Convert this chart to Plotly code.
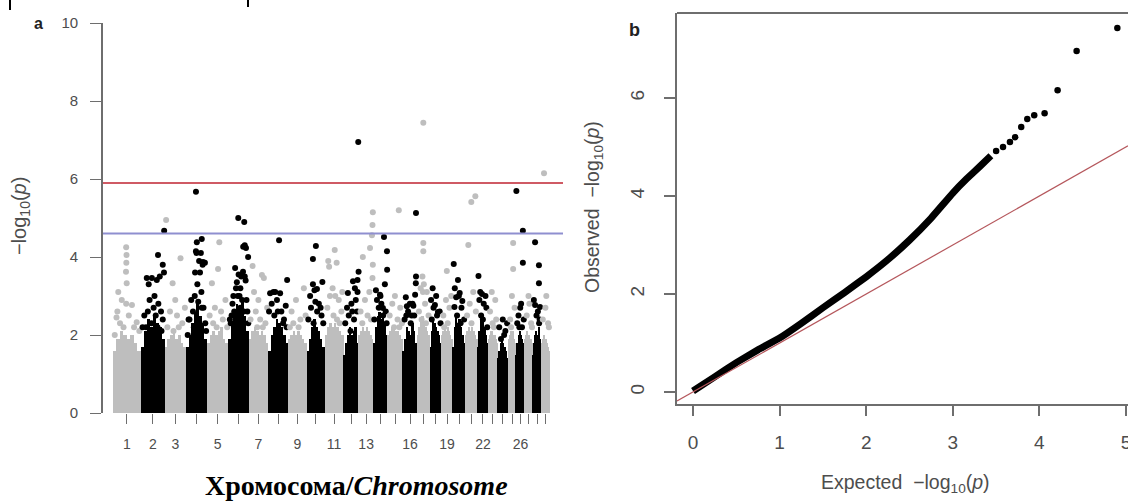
import numpy as np
import plotly.graph_objects as go

# ---------------- data ----------------
chrom_names = [str(i) for i in range(1, 30)]
chrom_len_mb = [158.5, 136.2, 121.0, 120.0, 120.1, 117.8, 110.7, 113.3, 105.5, 103.3,
                107.0, 87.2, 83.5, 82.4, 85.0, 81.7, 73.2, 65.8, 63.4, 72.0,
                69.9, 60.8, 52.5, 62.3, 42.4, 52.0, 45.6, 45.9, 51.1]
chrom_tick_text = ["1", "2", "3", "", "5", "", "7", "", "9", "", "11", "", "13", "", "",
                   "16", "", "", "19", "", "", "22", "", "", "", "26", "", "", ""]

# dense (solid) part of each chromosome: -log10(p) reached over 8 equal segments
dense_top = [
    [1.6, 1.9, 2.1, 2.0, 1.9, 2.0, 1.8, 1.6],
    [1.7, 2.1, 2.4, 2.2, 2.5, 2.3, 2.2, 1.9],
    [1.7, 1.9, 2.0, 2.1, 1.9, 2.0, 1.8, 1.7],
    [1.7, 2.0, 2.3, 2.6, 2.8, 2.5, 2.3, 1.9],
    [1.8, 2.0, 2.1, 2.0, 2.1, 2.2, 1.9, 1.8],
    [1.9, 2.3, 2.6, 2.8, 2.7, 2.9, 2.5, 2.1],
    [1.9, 2.1, 2.2, 2.1, 2.0, 2.1, 2.0, 1.8],
    [1.6, 2.0, 2.2, 2.4, 2.3, 2.2, 2.0, 1.8],
    [1.9, 2.0, 2.1, 2.0, 2.1, 2.0, 1.9, 1.8],
    [1.6, 1.9, 2.2, 2.4, 2.2, 2.1, 1.9, 1.7],
    [2.0, 2.2, 2.3, 2.2, 2.3, 2.2, 2.1, 2.0],
    [1.5, 1.8, 2.0, 2.2, 2.0, 2.1, 2.2, 1.8],
    [2.0, 2.1, 2.2, 2.1, 2.2, 2.1, 2.0, 1.9],
    [1.8, 2.2, 2.5, 2.6, 2.4, 2.5, 2.3, 2.0],
    [2.0, 2.1, 2.2, 2.2, 2.1, 2.1, 2.0, 1.9],
    [1.6, 1.9, 2.2, 2.1, 2.0, 2.3, 2.1, 1.8],
    [2.0, 2.2, 2.4, 2.5, 2.3, 2.2, 2.1, 2.0],
    [1.7, 2.1, 2.4, 2.3, 2.2, 2.1, 2.0, 1.8],
    [2.0, 2.1, 2.2, 2.1, 2.2, 2.1, 2.0, 1.9],
    [1.7, 2.2, 2.5, 2.3, 2.4, 2.2, 2.0, 1.8],
    [2.0, 2.1, 2.2, 2.1, 2.2, 2.1, 2.0, 1.9],
    [1.7, 2.1, 2.4, 2.3, 2.5, 2.2, 2.0, 1.8],
    [1.9, 2.0, 2.1, 2.1, 2.0, 2.0, 1.9, 1.8],
    [1.4, 1.6, 1.8, 1.9, 1.8, 1.7, 1.6, 1.4],
    [1.9, 2.0, 2.1, 2.0, 2.1, 2.0, 1.9, 1.8],
    [1.5, 1.8, 2.0, 2.1, 2.0, 1.9, 1.8, 1.6],
    [1.9, 2.0, 2.1, 2.0, 2.0, 1.9, 1.9, 1.8],
    [1.5, 1.8, 2.0, 2.1, 2.0, 2.2, 1.9, 1.6],
    [1.8, 1.9, 2.0, 1.9, 1.9, 1.8, 1.7, 1.6],
]

# individual SNPs above the dense band: chromosome -> [(position Mb, -log10(p))]
snp_points = {
    1: [(75, 4.25), (77, 4.05), (76, 3.85), (74, 3.62), (78, 3.33), (30, 3.1), (50, 2.9), (75, 2.8),
        (20, 2.45), (25, 2.6), (108, 2.77), (135, 2.33), (60, 2.2), (90, 2.5), (120, 2.2), (150, 2.1),
        (40, 2.3), (10, 2.0)],
    2: [(98, 4.05), (133, 4.67), (125, 3.8), (132, 3.6), (34, 3.46), (63, 3.46), (91, 3.41), (108, 3.5),
        (45, 3.3), (78, 3.0), (73, 2.7), (20, 2.5), (40, 2.6), (60, 2.3), (85, 2.5), (100, 2.8), (115, 2.6),
        (50, 2.9), (10, 2.2), (125, 2.4), (30, 2.2), (70, 2.1), (95, 2.2), (118, 2.1), (55, 2.0)],
    3: [(8, 4.95), (90, 3.97), (45, 3.33), (30, 2.6), (70, 2.5), (100, 2.3), (115, 2.7), (60, 2.9),
        (15, 2.2), (80, 2.2), (50, 2.1)],
    4: [(57, 5.67), (90, 4.46), (62, 4.38), (57, 4.15), (60, 4.1), (85, 4.1), (75, 3.9), (95, 3.8),
        (97, 3.87), (108, 3.85), (52, 3.6), (80, 3.6), (65, 3.3), (88, 3.1), (50, 3.0), (70, 2.85),
        (90, 2.7), (15, 2.4), (20, 2.4), (40, 2.6), (30, 2.9), (100, 2.7), (110, 2.3), (10, 2.0),
        (45, 2.2), (115, 2.1)],
    5: [(70, 4.38), (63, 3.69), (28, 3.33), (15, 2.5), (45, 2.7), (90, 2.4), (105, 2.9), (55, 2.2),
        (80, 2.6), (35, 2.3), (115, 2.2)],
    6: [(58, 5.0), (92, 4.9), (86, 4.26), (102, 4.23), (95, 4.3), (114, 4.0), (40, 3.72), (85, 3.62),
        (60, 3.55), (75, 3.5), (100, 3.4), (50, 3.35), (70, 3.2), (55, 3.0), (80, 2.9), (10, 2.4),
        (25, 2.8), (45, 3.2), (65, 3.0), (95, 3.5), (105, 2.9), (110, 2.6), (30, 3.0), (70, 2.7),
        (20, 2.5), (35, 2.6), (90, 2.6), (15, 2.3), (115, 2.3)],
    7: [(22, 3.77), (75, 3.54), (86, 3.46), (10, 2.4), (40, 2.6), (55, 2.9), (95, 2.3), (105, 2.7),
        (30, 3.1), (65, 2.4), (80, 2.2), (48, 2.2)],
    8: [(62, 4.43), (108, 3.41), (11, 3.07), (68, 3.07), (20, 2.8), (35, 2.5), (50, 2.9), (75, 2.6),
        (90, 2.4), (100, 2.75), (5, 2.6), (30, 3.1), (40, 3.1), (55, 2.6), (85, 2.3), (105, 2.2)],
    9: [(20, 2.6), (45, 2.9), (70, 2.4), (90, 3.2), (60, 2.2), (30, 2.3), (100, 2.5), (10, 2.2)],
    10: [(53, 4.28), (36, 3.95), (36, 3.3), (45, 3.15), (59, 3.18), (90, 3.36), (20, 3.0), (50, 2.85),
         (80, 2.7), (10, 2.4), (25, 2.7), (70, 2.8), (85, 2.5), (95, 2.3), (60, 2.6), (40, 2.3)],
    11: [(57, 4.18), (68, 3.85), (20, 3.9), (25, 3.75), (45, 3.2), (60, 3.0), (15, 2.7), (30, 3.0),
         (80, 2.9), (95, 2.6), (100, 3.1), (50, 2.5), (70, 2.4), (85, 2.3)],
    12: [(84, 6.95), (86, 3.62), (54, 3.38), (80, 3.41), (65, 3.2), (80, 3.1), (25, 3.08), (20, 2.7),
         (50, 2.6), (10, 2.3), (30, 2.5), (45, 2.8), (60, 2.4), (70, 2.9), (78, 2.6), (40, 2.1)],
    13: [(80, 5.15), (78, 4.82), (75, 4.56), (64, 4.23), (23, 4.0), (80, 3.8), (78, 3.46), (10, 2.6),
         (35, 2.9), (50, 2.5), (60, 3.1), (20, 2.3), (70, 2.4)],
    14: [(60, 4.51), (77, 4.15), (78, 3.67), (14, 3.15), (37, 3.03), (54, 2.69), (20, 2.9), (30, 2.7),
         (45, 2.8), (65, 3.3), (70, 2.6), (5, 2.4), (40, 3.0), (55, 2.5), (75, 2.3)],
    15: [(62, 5.2), (10, 2.5), (25, 2.8), (40, 3.0), (55, 2.4), (70, 2.7), (80, 2.3), (35, 2.2), (65, 2.2)],
    16: [(75, 5.13), (75, 3.5), (74, 3.33), (70, 3.03), (17, 2.97), (23, 2.74), (40, 2.8), (60, 2.75),
         (20, 2.5), (50, 2.5), (10, 2.4), (30, 2.6), (45, 2.3), (55, 2.8), (65, 2.5)],
    17: [(35, 7.44), (35, 4.36), (35, 4.15), (30, 3.5), (38, 3.3), (33, 3.1), (10, 2.6), (20, 3.2),
         (45, 2.8), (55, 3.1), (65, 2.5), (25, 2.4), (50, 2.3)],
    18: [(6, 2.9), (28, 2.77), (45, 2.59), (15, 3.2), (35, 3.0), (55, 2.6), (60, 2.3), (20, 2.7),
         (40, 2.5), (10, 2.4)],
    19: [(30, 3.64), (10, 2.5), (25, 2.9), (45, 2.7), (55, 3.0), (35, 2.3), (15, 2.2)],
    20: [(6, 3.82), (30, 3.41), (12, 3.2), (40, 3.08), (20, 2.97), (55, 2.87), (10, 2.72), (35, 3.0),
         (50, 2.7), (25, 2.5), (65, 2.4), (45, 2.3)],
    21: [(57, 5.56), (34, 5.41), (17, 4.31), (10, 2.5), (25, 2.8), (45, 3.1), (60, 2.6), (35, 2.3)],
    22: [(5, 3.51), (15, 3.1), (25, 3.05), (45, 3.0), (10, 2.9), (35, 2.8), (50, 2.7), (30, 2.4),
         (55, 2.2), (20, 2.5)],
    23: [(10, 2.6), (25, 2.3), (40, 2.9), (20, 3.1), (45, 2.4), (32, 2.2)],
    24: [(10, 2.2), (30, 2.4), (45, 2.1), (20, 1.9), (55, 2.3), (38, 2.0)],
    25: [(27, 4.36), (27, 3.69), (10, 2.4), (35, 2.7), (20, 3.0), (15, 2.2)],
    26: [(3, 5.69), (40, 4.67), (40, 3.85), (8, 2.3), (35, 2.2), (15, 2.5), (25, 2.7), (45, 2.4),
         (30, 2.8), (20, 2.2)],
    27: [(10, 2.5), (25, 2.8), (35, 2.3), (20, 3.0), (40, 2.2)],
    28: [(12, 4.38), (34, 3.79), (34, 3.33), (12, 2.77), (40, 2.72), (35, 2.3), (20, 2.5), (5, 2.9),
         (28, 2.6), (38, 2.4)],
    29: [(17, 6.15), (10, 2.4), (25, 2.7), (40, 2.3), (30, 3.0), (45, 2.2)],
}
suggestive_line = 4.6
genomewide_line = 5.9

# QQ plot: dense part (thick curve) and the separate tail points
qq_expected = [0.0, 0.25, 0.5, 0.75, 1.0, 1.25, 1.5, 1.75, 2.0, 2.25, 2.5, 2.75, 3.0,
               3.16, 3.31, 3.44]
qq_observed = [0.02, 0.31, 0.6, 0.86, 1.1, 1.4, 1.72, 2.03, 2.35, 2.7, 3.1, 3.55, 4.06,
               4.35, 4.6, 4.82]
qq_tail_expected = [3.5, 3.58, 3.66, 3.72, 3.79, 3.86, 3.94, 4.06, 4.21, 4.43, 4.90]
qq_tail_observed = [4.92, 5.0, 5.1, 5.2, 5.41, 5.57, 5.65, 5.69, 6.16, 6.96, 7.43]
qq_ticks_x = [0, 1, 2, 3, 4, 5]
qq_ticks_y = [0, 2, 4, 6]
manh_ticks_y = [0, 2, 4, 6, 8, 10]

# ---------------- layout helpers ----------------
W, H = 1128, 502
def fx(p):
    return p / W
def fy(p):
    return 1 - p / H

GRAY = "#bebebe"
BLACK = "#000000"
AXC = "#6e6e6e"
TXC = "#4d4d4d"
FONT = "Liberation Sans, Arial, sans-serif"

lens = np.array(chrom_len_mb)
starts = np.concatenate([[0], np.cumsum(lens)[:-1]])
total = lens.sum()
centers = starts + lens / 2
colors = [GRAY if i % 2 == 0 else BLACK for i in range(len(lens))]

fig = go.Figure()

# dense band as bars
bx, bw, bh, bc = [], [], [], []
for i, segs in enumerate(dense_top):
    n = len(segs)
    w = lens[i] / n
    for k, h in enumerate(segs):
        bx.append(starts[i] + (k + 0.5) * w)
        bw.append(w * 1.02)
        bh.append(h)
        bc.append(colors[i])
fig.add_trace(go.Bar(x=bx, y=bh, width=bw, marker=dict(color=bc, line=dict(width=0)),
                     xaxis="x", yaxis="y", showlegend=False, hoverinfo="skip"))

# SNP points
px_, py_, pc_ = [], [], []
for c in range(1, len(lens) + 1):
    for pos, v in snp_points.get(c, []):
        px_.append(starts[c - 1] + pos)
        py_.append(v)
        pc_.append(colors[c - 1])
fig.add_trace(go.Scatter(x=px_, y=py_, mode="markers",
                         marker=dict(color=pc_, size=6, line=dict(width=0)),
                         xaxis="x", yaxis="y", showlegend=False))

# QQ
fig.add_trace(go.Scatter(x=qq_expected, y=qq_observed, mode="lines",
                         line=dict(color=BLACK, width=7, shape="spline", smoothing=0.3),
                         xaxis="x2", yaxis="y2", showlegend=False))
fig.add_trace(go.Scatter(x=qq_tail_expected, y=qq_tail_observed, mode="markers",
                         marker=dict(color=BLACK, size=6.5), xaxis="x2", yaxis="y2", showlegend=False))
x2r = [-0.185, (W - 693) / 86.6]
fig.add_trace(go.Scatter(x=x2r, y=x2r, mode="lines", line=dict(color="#b5575c", width=1.2),
                         xaxis="x2", yaxis="y2", showlegend=False))

scale = 437 / total
fig.update_layout(
    width=W, height=H, margin=dict(l=0, r=0, t=0, b=0, pad=0, autoexpand=False),
    paper_bgcolor="white", plot_bgcolor="white", barmode="overlay", bargap=0,
    showlegend=False,
    xaxis=dict(domain=[fx(103), fx(563)], range=[-10 / scale, total + 13 / scale],
               showgrid=False, zeroline=False, showline=False, automargin=False,
               tickmode="array", tickvals=list(centers), ticktext=chrom_tick_text,
               ticks="outside", ticklen=10, tickwidth=1.3, tickcolor=AXC,
               tickfont=dict(family=FONT, size=14, color=TXC), ticklabelstandoff=8,
               anchor="y"),
    yaxis=dict(domain=[fy(413), fy(23)], range=[0, 10], showgrid=False, zeroline=False,
               showline=True, linecolor=AXC, linewidth=1.6, automargin=False,
               tickmode="array", tickvals=manh_ticks_y, ticks="outside", ticklen=11,
               tickwidth=1.3, tickcolor=AXC, tickfont=dict(family=FONT, size=15, color=TXC),
               ticklabelstandoff=9, anchor="x"),
    xaxis2=dict(domain=[fx(677), 1.0], range=x2r, showgrid=False, zeroline=False,
                showline=True, linecolor=AXC, linewidth=2, automargin=False,
                tickmode="array", tickvals=qq_ticks_x, ticks="outside", ticklen=10,
                tickwidth=1.5, tickcolor=AXC, tickfont=dict(family=FONT, size=19, color=TXC),
                ticklabelstandoff=10, ticklabeloverflow="allow", anchor="y2"),
    yaxis2=dict(domain=[fy(404), fy(13)], range=[-0.245, 7.735], showgrid=False, zeroline=False,
                showline=True, linecolor=AXC, linewidth=2, automargin=False,
                tickmode="array", tickvals=qq_ticks_y, ticks="outside", ticklen=11,
                tickwidth=1.5, tickcolor=AXC, tickangle=-90,
                tickfont=dict(family=FONT, size=19, color=TXC), ticklabelstandoff=12,
                anchor="x2"),
)

shapes = [
    dict(type="line", xref="x domain", x0=0, x1=1, yref="y", y0=genomewide_line, y1=genomewide_line,
         line=dict(color="#cf5a64", width=2), layer="above"),
    dict(type="line", xref="x domain", x0=0, x1=1, yref="y", y0=suggestive_line, y1=suggestive_line,
         line=dict(color="#8f8fd0", width=2), layer="above"),
    dict(type="line", xref="paper", x0=fx(677), x1=1.0, yref="paper", y0=fy(13), y1=fy(13),
         line=dict(color=AXC, width=2)),
    dict(type="line", xref="paper", x0=fx(10), x1=fx(10), yref="paper", y0=1.0, y1=fy(10),
         line=dict(color="black", width=2)),
    dict(type="line", xref="paper", x0=fx(248), x1=fx(248), yref="paper", y0=1.0, y1=fy(7),
         line=dict(color="black", width=2)),
]
fig.update_layout(shapes=shapes)

def ann(text, x, y, size, color=TXC, angle=0, family=FONT):
    return dict(text=text, x=fx(x), y=fy(y), xref="paper", yref="paper", showarrow=False,
                xanchor="center", yanchor="middle", textangle=angle,
                font=dict(family=family, size=size, color=color))

annotations = [
    ann("<b>a</b>", 38, 24, 16, "#222"),
    ann("<b>b</b>", 634, 30, 18, "#222"),
    ann("\u2212log<sub>10</sub>(<i>p</i>)", 20, 216, 20, angle=-90),
    ann("Observed  \u2212log<sub>10</sub>(<i>p</i>)", 593, 207, 19.5, angle=-90),
    ann("Expected  \u2212log<sub>10</sub>(<i>p</i>)", 905, 483, 19.5),
    ann("<b>Хромосома/<i>Chromosome</i></b>", 356, 485, 28, "black",
        family="Liberation Serif, Times New Roman, serif"),
]
fig.update_layout(annotations=annotations)

fig.write_html("out.html", config={"displayModeBar": False},
               post_script="document.body.style.margin='0px';document.body.style.overflow='hidden';")
